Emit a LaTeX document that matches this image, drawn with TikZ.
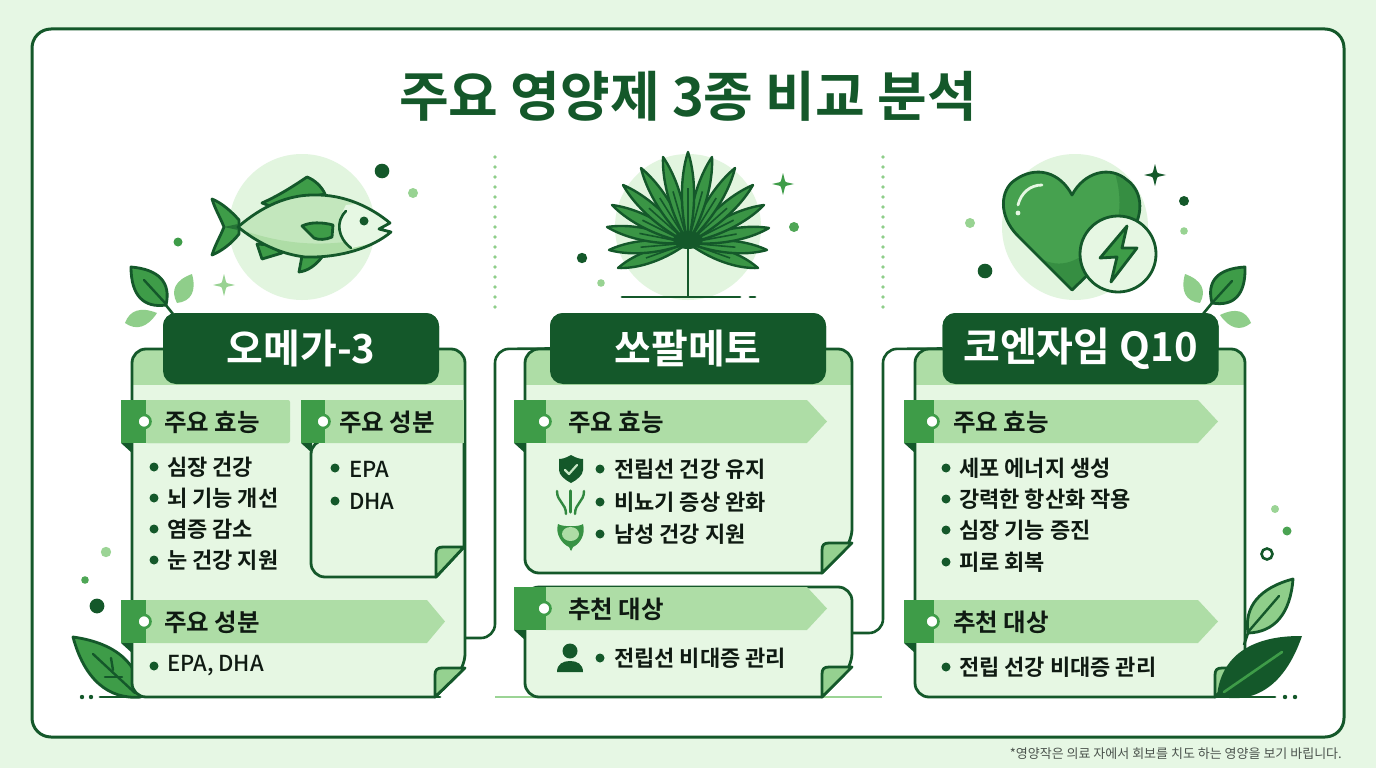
\documentclass[tikz,border=0pt]{standalone}
\usepackage{fontspec}
\setmainfont{Noto Sans CJK KR}
\newfontfamily\kmed{Noto Sans CJK KR Medium}
\newfontfamily\kbold{Noto Sans CJK KR Bold}
\usetikzlibrary{calc}
\definecolor{dk}{HTML}{14582A}
\definecolor{md}{HTML}{3E9C48}
\definecolor{lt}{HTML}{AEDDA6}
\definecolor{lf}{HTML}{8FCE8A}
\definecolor{pale}{HTML}{E6F7E3}
\definecolor{halo}{HTML}{E2F5DF}
\definecolor{bgc}{HTML}{E6F7E4}
\definecolor{ink}{HTML}{0F1A12}
\tikzset{
 outl/.style={draw=dk,line width=2.8pt,line join=round},
 art/.style={draw=dk,line width=2.8pt,line join=round},
 pill/.style={fill=dk,rounded corners=13pt,minimum width=276pt,minimum height=71pt,inner sep=0pt,text=white,font=\kbold\fontsize{40}{40}\selectfont},
 sechead/.style={anchor=west,inner sep=0pt,text=ink,font=\kbold\fontsize{24.5}{25}\selectfont},
 item/.style={anchor=west,inner sep=0pt,text=ink,font=\kbold\fontsize{22}{23}\selectfont},
 link/.style={draw=dk,line width=2.6pt,rounded corners=14pt},
 gline/.style={line width=2.8pt,line cap=round},
}
\newcommand{\leafdo}[5]{%
 \path[#5,line join=round] (#1,#2) .. controls ($(#1,#2)!.4!(#3,#4)!\lfw pt!90:(#3,#4)$) and ($(#1,#2)!.75!(#3,#4)!\lfw pt!90:(#3,#4)$) .. (#3,#4) .. controls ($(#1,#2)!.75!(#3,#4)!\lfw pt!-90:(#3,#4)$) and ($(#1,#2)!.4!(#3,#4)!\lfw pt!-90:(#3,#4)$) .. cycle;}
\newcommand{\spark}[4]{%
 \path[fill=#4] (#1,#2-#3) .. controls (#1+2,#2-4) and (#1+1.6,#2-1.6) .. (#1+4,#2-1.6) -- (#1+#3,#2) -- (#1+4,#2+1.6) .. controls (#1+1.6,#2+1.6) and (#1+2,#2+4) .. (#1,#2+#3) .. controls (#1-2,#2+4) and (#1-1.6,#2+1.6) .. (#1-4,#2+1.6) -- (#1-#3,#2) -- (#1-4,#2-1.6) .. controls (#1-1.6,#2-1.6) and (#1-2,#2-4) .. cycle;}
% card outline: l,t,r,b,fx,fy
\newcommand{\cardpath}[6]{(#5,#4) [rounded corners=14pt] -- (#1,#4) -- (#1,#2) -- (#3,#2) -- (#3,#6) [sharp corners] -- cycle}
\newcommand{\flap}[4]{% fx,b,r,fy
 \path[fill=lf!80!lt,art] (#1,#2) -- (#1,#4+7) .. controls (#1,#4+2) and (#1+2,#4) .. (#1+7,#4) -- (#3,#4) -- cycle;}
% ribbon: x0, xd, xs, xt, y0, y1  (xs = shoulder, xt = tip)
\newcommand{\ribbon}[6]{%
 \fill[lt] (#2,#5) -- (#3,#5) -- (#4,{(#5+#6)/2}) -- (#3,#6) -- (#2,#6) -- cycle;
 \fill[md] (#1,#5) -- (#2,#5) -- (#2,#6) -- (#1,#6) -- cycle;
 \fill[dk] (#1,#6) -- (#1+11,#6) -- (#1+11,#6+10) -- cycle;
 \fill[white,draw=md,line width=2.6pt] (#2-2,{(#5+#6)/2}) circle (6.5pt);}
\newcommand{\bul}[2]{\fill[dk] (#1,#2) circle (4.5pt);}
\begin{document}
\begin{tikzpicture}[x=1pt,y=-1pt]
\useasboundingbox (0,0) rectangle (1376,768);
\fill[bgc] (0,0) rectangle (1376,768);
\draw[fill=white,draw=dk,line width=3pt,rounded corners=19pt] (32,29) rectangle (1344,737);
\node[inner sep=0pt,text=dk,font=\kbold\fontsize{54}{54}\selectfont] (title) at (688,96) {주요 영양제 3종 비교 분석};
% dotted separators
\foreach \xx in {495,883}{\foreach \yy in {157,167,...,310}{\fill[lf] (\xx,\yy) circle (1.8pt);}}
% halos
\fill[halo] (302,227) circle (73pt);
\fill[halo] (688,227) circle (73pt);
\fill[halo] (1075,227) circle (73pt);
% ---------- fish
\path[fill=md,art] (262,203) .. controls (280,195) and (295,185) .. (307,177) .. controls (315,180) and (322,187) .. (325,194) -- (270,206) -- cycle;
\path[fill=md,art] (257,244) -- (262,259) -- (282,253) -- (270,245) -- cycle;
\path[fill=md,art] (302,256) -- (299,272) .. controls (308,271) and (316,265) .. (322,257) -- cycle;
\path[fill=md,art] (212,199) .. controls (222,203) and (232,212) .. (239,220) -- (239,234) .. controls (232,243) and (222,251) .. (212,255) .. controls (215,245) and (220,237) .. (224,227) .. controls (220,217) and (215,209) .. (212,199) -- cycle;
\fill[dk!60!md] (224,227) -- (238,224) -- (238,230) -- cycle;
\def\fishp{(238,227) .. controls (262,206) and (288,195) .. (313,195) .. controls (345,194) and (372,208) .. (390,223) -- (379,229) -- (391,232) .. controls (372,248) and (340,258) .. (305,257) .. controls (280,254) and (258,243) .. (238,227) -- cycle}
\path[fill=lt!60!halo] \fishp;
\begin{scope}
\clip \fishp;
\fill[lt] (236,228) .. controls (270,240) and (320,254) .. (392,232) -- (392,262) -- (236,262) -- cycle;
\fill[pale] (346,205) .. controls (336,222) and (340,238) .. (352,248) -- (395,238) -- (395,200) -- cycle;
\end{scope}
\path[art] \fishp;
\path[fill=md,art] (302,226) .. controls (310,222) and (322,222) .. (333,225) -- (332,237) .. controls (326,240) and (318,240) .. (314,238) -- cycle;
\draw[dk,line width=2.6pt,line cap=round] (346,211) .. controls (335,222) and (338,238) .. (351,248);
\fill[dk] (364,221) circle (4.5pt);
\fill[dk] (382,171) circle (7.3pt);
\fill[lf!70!lt] (413,193) circle (5pt);
\fill[md] (178,242) circle (4.5pt);
\spark{224}{285}{11}{lf!70!lt}
% ---------- top-left leaves
\draw[dk,line width=2.6pt] (165,304) -- (173,314);
\def\lfw{19}\leafdo{131}{267}{166}{305}{fill=md,art}
\draw[dk,line width=2.4pt,line cap=round] (144,280) -- (166,304);
\def\lfw{12}\leafdo{192}{274}{177}{303}{fill=lf}
\def\lfw{11}\leafdo{157}{313}{125}{323}{fill=lf}
% ---------- palm
\foreach \tx/\ty in {618/268,758/268,609/250,767/250,607/227,769/228,612/205,764/205,623/185,753/185,641/168,735/168,663/157,712/157,688/152}{
 \path[fill=md!90!dk,draw=dk,line width=2.4pt,line join=round] (688,243) .. controls ($(688,243)!.45!(\tx,\ty)!10pt!90:(\tx,\ty)$) and ($(688,243)!.8!(\tx,\ty)!6pt!90:(\tx,\ty)$) .. (\tx,\ty) .. controls ($(688,243)!.8!(\tx,\ty)!6pt!-90:(\tx,\ty)$) and ($(688,243)!.45!(\tx,\ty)!10pt!-90:(\tx,\ty)$) .. cycle;
 \draw[dk,line width=1.6pt] (688,243) -- ($(688,243)!.6!(\tx,\ty)$);
}
\fill[dk] (688,240) ellipse (15pt and 9pt);
\draw[dk,line width=2.6pt] (688,245) -- (688,297);
\draw[dk,gline] (622,297) -- (740,297);
\draw[dk,gline] (750,297) -- (755,297);
\spark{783}{184}{11}{md}
\fill[md!85!lt] (794,227) circle (5pt);
\fill[dk] (582,258) circle (5.2pt);
\fill[lf!70!lt] (601,283) circle (3.8pt);
% ---------- heart
\def\heartp{(1072,290) -- (1018,236) .. controls (998,216) and (1000,190) .. (1015,180) .. controls (1036,165) and (1060,172) .. (1072,195) .. controls (1084,172) and (1110,165) .. (1127,180) .. controls (1144,192) and (1144,218) .. (1128,236) -- cycle}
\fill[md!90!lf] \heartp;
\begin{scope}
\clip \heartp;
\fill[md!80!dk] (1112,165) .. controls (1122,190) and (1122,215) .. (1112,240) -- (1150,250) -- (1150,165) -- cycle;
\fill[md!80!dk] (1040,258) .. controls (1060,270) and (1080,262) .. (1100,240) -- (1110,300) -- (1040,300) -- cycle;
\end{scope}
\draw[dk,line width=2.8pt,line join=round] \heartp;
\draw[pale,line width=2.8pt,line cap=round] (1042,185) .. controls (1030,185) and (1021,193) .. (1018,205);
\fill[pale] (1018,213) circle (2.4pt);
\path[fill=pale,draw=dk,line width=2.8pt] (1118,254) circle (38pt);
\path[fill=md,art] (1127,226) -- (1100,258) -- (1117,257) -- (1111,282) -- (1137,248) -- (1122,248) -- cycle;
\spark{1155}{175}{11}{dk}
\fill[dk] (1184,201) circle (5pt);
\fill[lf!70!lt] (1184,231) circle (3.8pt);
\fill[lf!70!lt] (970,223) circle (5pt);
\fill[dk] (985,271) circle (7.3pt);
% top-right leaves
\draw[dk,line width=2.6pt] (1212,303) -- (1203,314);
\def\lfw{19}\leafdo{1245}{267}{1212}{303}{fill=md,art}
\draw[dk,line width=2.4pt,line cap=round] (1232,281) -- (1212,303);
\def\lfw{12}\leafdo{1185}{274}{1200}{303}{fill=lf}
\def\lfw{11}\leafdo{1220}{315}{1251}{323}{fill=lf}
% ---------- small decor left bottom
\fill[lf!60!lt] (106,552) circle (5.2pt);
\fill[md!80!lf] (85,580) circle (3.8pt);
\fill[dk] (97,606) circle (7.4pt);
\def\lfw{24}\leafdo{73}{637}{141}{697}{fill=md,art}
\draw[dk,line width=2.4pt,line cap=round] (93,654) -- (135,693);
\draw[dk,line width=2.4pt,line cap=round] (111,658) -- (113,670);
\draw[dk,line width=2.4pt,line cap=round] (105,677) -- (122,677);
% ground lines
\draw[dk,gline] (100,697) -- (440,697);
\fill[dk] (82,697) circle (2.2pt); \fill[dk] (91,697) circle (2.2pt);
\draw[lf!60!lt,line width=2.8pt] (495,697) -- (882,697);
\draw[dk,gline] (1100,697) -- (1275,697);
\fill[dk] (1285,697) circle (2.2pt); \fill[dk] (1295,697) circle (2.2pt);
% ---------- pills (nodes first for connector anchors)
\node[pill] (pillA) at (301,348.5) {오메가-3};
\node[pill] (pillB) at (688,348.5) {쏘팔메토};
\node[pill] (pillC) at (1080.5,348.5) {코엔자임 Q10};
\coordinate (portA) at (465,638);
\coordinate (portB) at (852,633);
\draw[link] (portA) -- (495,638) -- (495,349) -- (pillB.west);
\draw[link] (portB) -- (883,633) -- (883,349) -- (pillC.west);
% ---------- card A
\fill[pale] \cardpath{132}{349}{465}{697}{435}{668};
\begin{scope}\clip \cardpath{132}{349}{465}{697}{435}{668}; \fill[lt] (120,340) rectangle (480,385);\end{scope}
\path[outl] \cardpath{132}{349}{465}{697}{435}{668};
\flap{435}{697}{465}{668}
% inner box
\path[outl,fill=pale] (436,577) [rounded corners=14pt] -- (311,577) -- (311,440) [sharp corners] -- (464,440) -- (464,547) -- cycle;
\flap{436}{577}{464}{547}
\draw[dk,line width=2.8pt] (465,440) -- (465,560);
\fill[lt,rounded corners=2pt] (146,400) rectangle (290,443);
\ribbon{121}{146}{288}{290}{400}{443}
\fill[lt] (325,400) rectangle (464,443);
\ribbon{301}{325}{463}{463}{400}{443}
\ribbon{121}{146}{427}{445}{600}{643}
\node[sechead] (a1) at (164,422.5) {주요 효능};
\node[sechead] (a2) at (339,422.5) {주요 성분};
\node[sechead] (a3) at (164,622.5) {주요 성분};
\bul{154}{467}\bul{154}{498}\bul{154}{529}\bul{154}{560}
\node[item] (a11) at (167,467) {심장 건강};
\node[item] (a12) at (167,498) {뇌 기능 개선};
\node[item] (a13) at (167,529) {염증 감소};
\node[item] (a14) at (167,560) {눈 건강 지원};
\bul{335}{468}\bul{335}{501}
\node[item,font=\kmed\fontsize{22}{23}\selectfont] (a21) at (349,469) {EPA};
\node[item,font=\kmed\fontsize{22}{23}\selectfont] (a22) at (349,501) {DHA};
\bul{154}{666}
\node[item,font=\kmed\fontsize{22}{23}\selectfont] (a31) at (167,666) {EPA, DHA};
% ---------- card B
\fill[pale] \cardpath{525}{349}{852}{573}{822}{543};
\begin{scope}\clip \cardpath{525}{349}{852}{573}{822}{543}; \fill[lt] (515,340) rectangle (860,385);\end{scope}
\path[outl] \cardpath{525}{349}{852}{573}{822}{543};
\flap{822}{573}{852}{543}
\ribbon{514}{546}{807}{827}{400}{443}
\node[sechead] (b1) at (568,422.5) {주요 효능};
\bul{600}{469}\bul{600}{502}\bul{600}{534}
\node[item] (b11) at (614,469) {전립선 건강 유지};
\node[item] (b12) at (614,502) {비뇨기 증상 완화};
\node[item] (b13) at (614,534) {남성 건강 지원};
% shield
\fill[dk] (571,455) .. controls (576,458) and (580,459) .. (583,459) -- (583,470) .. controls (583,475) and (577,480) .. (571,483) .. controls (565,480) and (559,475) .. (559,470) -- (559,459) .. controls (562,459) and (566,458) .. (571,455) -- cycle;
\draw[lf!50!white,line width=2.2pt,line cap=round,line join=round] (565,470) -- (569,474) -- (577,465);
% urinary
\draw[md!70!dk,line width=2.4pt,line cap=round] (557,491) .. controls (557,502) and (566,503) .. (566,514);
\draw[md!70!dk,line width=2.4pt,line cap=round] (584,491) .. controls (584,502) and (575,503) .. (575,514);
\draw[md!70!dk,line width=3.4pt,line cap=round] (570.5,491) -- (570.5,512);
% bladder
\path[fill=md!85!dk] (558,524) .. controls (562,527) and (580,527) .. (583,524) .. controls (586,534) and (580,544) .. (573,547) -- (571,551) -- (569,547) .. controls (562,544) and (555,534) .. (558,524) -- cycle;
\fill[lt] (570.5,534) ellipse (8.5pt and 7pt);
\draw[md!85!dk,line width=1.6pt] (570.5,541) -- (570.5,550);
% ---------- card B2
\fill[pale] \cardpath{525}{587}{852}{697}{822}{667};
\path[outl] \cardpath{525}{587}{852}{697}{822}{667};
\flap{822}{697}{852}{667}
\ribbon{514}{546}{807}{827}{587}{630}
\node[sechead] (b2) at (568,609.5) {추천 대상};
\fill[dk] (570,651) circle (7.5pt);
\fill[dk] (557,672) .. controls (557,664) and (563,661) .. (570,661) .. controls (577,661) and (583,664) .. (583,672) -- cycle;
\bul{600}{658}
\node[item] (b21) at (614,658) {전립선 비대증 관리};
% ---------- card C
\fill[pale] \cardpath{915}{349}{1245}{697}{1215}{668};
\begin{scope}\clip \cardpath{915}{349}{1245}{697}{1215}{668}; \fill[lt] (905,340) rectangle (1255,385);\end{scope}
\path[outl] \cardpath{915}{349}{1245}{697}{1215}{668};
\flap{1215}{697}{1245}{668}
\ribbon{904}{934}{1198}{1218}{400}{443}
\ribbon{904}{934}{1198}{1218}{600}{643}
\node[sechead] (c1) at (953,422.5) {주요 효능};
\node[sechead] (c2) at (953,622.5) {추천 대상};
\bul{946}{468}\bul{946}{499}\bul{946}{530}\bul{946}{562}
\node[item] (c11) at (959,468) {세포 에너지 생성};
\node[item] (c12) at (959,499) {강력한 항산화 작용};
\node[item] (c13) at (959,530) {심장 기능 증진};
\node[item] (c14) at (959,562) {피로 회복};
\bul{946}{667}
\node[item] (c21) at (959,667) {전립 선강 비대증 관리};
% redraw pills over cards
\node[pill] at (pillA) {오메가-3};
\node[pill] at (pillB) {쏘팔메토};
\node[pill] at (pillC) {코엔자임 Q10};
% ---------- right bottom decor
\fill[lf!60!lt] (1275,509) circle (4pt);
\fill[md!85!lf] (1287,531) circle (4.5pt);
\draw[dk,line width=2.6pt] (1267,554) circle (5.5pt);
\draw[dk,line width=2.6pt] (1248,633) -- (1244,645);
\def\lfw{20}\leafdo{1293}{579}{1248}{633}{fill=lf,art}
\draw[dk,line width=2.4pt,line cap=round] (1279,596) -- (1248,632);
\def\lfw{30}\leafdo{1302}{636}{1217}{696}{fill=dk}
\draw[md,line width=2.6pt,line cap=round] (1282,652) -- (1224,692);
% footer
\node[anchor=east,inner sep=0pt,text=ink!75!white,font=\fontsize{13}{14}\selectfont] (foot) at (1342,754) {*영양작은 의료 자에서 회보를 치도 하는 영양을 보기 바립니다.};
\end{tikzpicture}
\end{document}
